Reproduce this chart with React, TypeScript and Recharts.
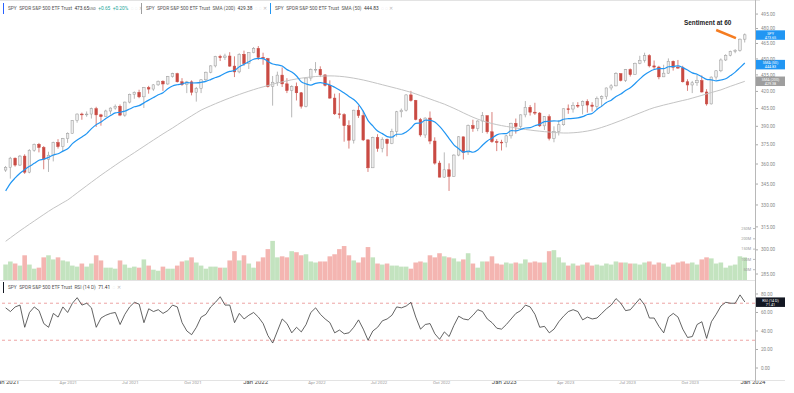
import React from "react";
import {
  ComposedChart,
  LineChart,
  Bar,
  Line,
  XAxis,
  YAxis,
  ReferenceLine,
  Cell,
} from "recharts";

// weekly SPY bars (dividend adjusted)
const FIRST_WEEK = "2020-12-28";
const FIRST_OPEN = 355.4;

const closes = [
  357.5, 364.5, 359.2, 366.1, 353.8, 370.7, 375.4, 372.9, 363.7, 366.8,
  376.8, 373.6, 379.9, 384.3, 394.7, 400.3, 399.8, 400.3, 404.9, 399.6,
  398.1, 402.9, 405.4, 407.0, 399.4, 410.6, 417.5, 419.2, 415.2, 423.4,
  422.1, 425.9, 429.2, 426.7, 433.4, 436.1, 428.7, 426.2, 428.6, 419.3,
  422.8, 430.5, 437.5, 443.4, 452.4, 451.2, 452.8, 443.2, 437.8, 454.5,
  445.6, 456.0, 460.2, 451.6, 450.3, 424.4, 428.3, 434.8, 426.8, 420.8,
  424.2, 418.8, 407.0, 432.1, 440.0, 440.2, 435.0, 425.5, 414.1, 400.5,
  399.8, 390.5, 378.7, 403.6, 399.0, 378.9, 357.1, 380.8, 372.2, 379.4,
  376.0, 385.7, 402.2, 403.6, 416.9, 412.1, 395.7, 382.9, 396.9, 378.0,
  360.7, 350.1, 355.6, 350.6, 366.9, 381.4, 368.9, 390.7, 388.2, 394.4,
  398.9, 385.5, 377.5, 377.1, 376.7, 382.2, 392.5, 389.9, 399.6, 406.1,
  401.9, 401.1, 390.4, 398.1, 380.1, 385.6, 391.3, 404.8, 404.6, 407.8,
  407.5, 411.2, 408.0, 406.9, 413.9, 415.3, 423.1, 425.0, 436.1, 429.9,
  439.9, 435.2, 445.9, 448.7, 453.2, 443.4, 442.3, 433.2, 436.6, 447.8,
  442.1, 441.6, 428.7, 425.8, 427.8, 429.8, 419.5, 409.0, 433.0, 438.8,
  449.0, 453.5, 457.3, 458.4, 469.3, 473.65,
];

const highs = [
  358.5, 365.5, 365.0, 367.0, 367.5, 371.5, 376.0, 376.5, 374.0, 369.5,
  377.5, 379.5, 380.5, 385.0, 395.0, 400.8, 401.5, 402.5, 405.8, 406.5,
  400.5, 404.0, 406.0, 408.5, 408.5, 411.0, 418.0, 420.0, 421.5, 424.0,
  425.0, 426.5, 429.8, 430.0, 434.0, 437.0, 437.0, 432.0, 429.5, 430.0,
  424.0, 431.0, 438.0, 444.0, 453.0, 454.0, 455.0, 456.5, 452.5, 455.5,
  458.0, 456.5, 461.5, 462.5, 456.0, 451.0, 434.0, 438.0, 442.0, 432.0,
  425.5, 428.0, 419.5, 432.5, 441.0, 447.0, 443.0, 435.5, 430.0, 418.0,
  418.5, 401.0, 395.0, 404.0, 407.5, 403.0, 379.5, 381.5, 383.5, 381.0,
  380.0, 388.0, 403.0, 405.0, 417.5, 420.5, 412.5, 397.0, 397.5, 402.5,
  381.0, 362.5, 369.0, 360.5, 367.5, 382.0, 381.5, 391.5, 395.5, 395.0,
  402.0, 399.0, 402.0, 379.5, 379.0, 383.0, 393.0, 396.5, 400.0, 411.5,
  408.0, 410.0, 402.0, 398.5, 400.0, 390.0, 395.0, 405.0, 408.5, 410.5,
  410.5, 412.0, 413.0, 410.5, 415.5, 416.5, 423.5, 426.5, 437.5, 436.5,
  440.5, 441.0, 446.5, 453.0, 456.0, 454.5, 448.5, 443.5, 444.5, 450.5,
  448.5, 449.0, 443.5, 431.0, 429.5, 435.0, 434.5, 422.0, 433.5, 439.5,
  450.5, 454.5, 458.0, 459.5, 470.0, 475.0,
];

const lows = [
  354.0, 349.0, 358.0, 358.5, 352.5, 353.0, 369.5, 369.0, 356.0, 354.0,
  362.0, 372.0, 369.5, 376.5, 384.0, 393.0, 395.5, 398.0, 396.5, 389.5,
  390.5, 398.0, 400.0, 404.0, 398.5, 398.0, 409.5, 413.5, 414.0, 405.5,
  418.0, 420.5, 425.0, 420.5, 426.0, 432.5, 428.0, 425.0, 418.5, 416.5,
  411.0, 418.5, 429.5, 436.5, 442.0, 448.0, 449.0, 442.5, 433.0, 436.5,
  443.5, 440.5, 455.5, 449.0, 444.5, 423.5, 407.5, 425.0, 424.0, 418.5,
  397.5, 412.0, 405.0, 406.0, 429.5, 437.0, 433.0, 424.5, 413.5, 399.5,
  396.5, 377.5, 372.0, 376.0, 397.0, 378.0, 354.0, 357.0, 369.5, 369.0,
  366.0, 375.5, 381.5, 397.5, 402.5, 411.0, 395.0, 381.5, 380.5, 375.5,
  359.5, 350.0, 349.5, 340.0, 350.5, 366.0, 363.5, 367.0, 385.5, 386.0,
  384.5, 384.0, 376.5, 370.0, 370.5, 373.0, 380.0, 384.0, 388.0, 397.5,
  399.0, 399.5, 389.5, 387.0, 378.5, 377.0, 382.5, 390.5, 400.5, 401.5,
  405.5, 400.0, 401.5, 402.5, 404.5, 406.5, 413.0, 421.0, 424.5, 429.0,
  428.5, 433.5, 435.0, 445.0, 446.5, 442.0, 440.0, 431.0, 433.0, 436.0,
  439.0, 440.5, 428.0, 420.5, 418.5, 425.0, 419.0, 407.5, 408.5, 430.5,
  437.5, 448.0, 452.5, 455.5, 457.0, 466.0,
];

const sma50 = [
  340.0, 345.5, 349.5, 353.0, 355.7, 358.2, 360.5, 362.9, 363.7, 365.1,
  367.0, 367.9, 370.0, 371.8, 375.9, 378.8, 381.3, 384.0, 388.1, 391.4,
  393.6, 396.5, 399.0, 401.3, 401.8, 402.8, 404.6, 406.5, 407.5, 409.9,
  412.3, 414.6, 417.0, 418.9, 422.3, 424.9, 426.0, 426.7, 428.0, 427.6,
  427.7, 428.2, 429.0, 430.7, 432.6, 434.1, 436.5, 438.2, 439.1, 442.6,
  444.9, 447.4, 449.7, 450.5, 450.3, 447.6, 445.2, 444.4, 443.3, 439.9,
  437.7, 434.0, 428.7, 426.8, 425.7, 427.3, 428.0, 427.0, 425.8, 423.7,
  421.3, 418.5, 415.6, 412.8, 408.7, 402.6, 394.8, 390.3, 386.1, 384.0,
  381.6, 381.1, 383.5, 383.5, 385.3, 388.6, 392.5, 392.7, 395.1, 395.0,
  393.5, 389.9, 385.3, 380.0, 375.0, 371.9, 369.2, 370.0, 369.1, 370.8,
  374.6, 378.1, 380.3, 383.0, 383.9, 384.0, 386.4, 386.3, 387.4, 388.6,
  388.9, 390.5, 391.8, 393.9, 394.2, 394.5, 394.4, 395.9, 396.4, 396.6,
  397.1, 398.1, 399.9, 400.8, 404.2, 407.1, 410.3, 412.3, 415.5, 417.7,
  420.9, 423.3, 427.1, 431.3, 435.2, 438.0, 440.0, 440.8, 440.8, 442.6,
  442.8, 443.5, 441.8, 439.5, 436.9, 435.6, 433.3, 430.9, 430.5, 429.6,
  430.3, 431.5, 434.4, 437.6, 441.8, 446.1,
];

const sma200 = [
  305.5, 307.8, 310.1, 312.4, 314.6, 316.8, 319.0, 321.2, 323.4, 325.6,
  327.7, 329.6, 331.6, 333.5, 336.0, 338.6, 341.2, 343.8, 346.4, 349.0,
  351.6, 354.1, 356.6, 359.1, 361.6, 364.0, 366.4, 368.8, 371.3, 373.8,
  376.3, 378.8, 381.3, 383.8, 386.2, 388.6, 391.2, 393.8, 396.3, 398.8,
  401.3, 403.7, 405.6, 407.4, 409.2, 410.9, 412.6, 414.2, 415.8, 417.3,
  418.8, 420.2, 421.6, 422.9, 424.1, 425.3, 426.5, 427.6, 428.6, 429.6,
  430.5, 431.3, 432.0, 432.6, 433.1, 433.5, 433.8, 434.0, 434.1, 434.0,
  433.7, 433.3, 432.7, 432.0, 431.2, 430.3, 429.3, 428.2, 427.1, 426.0,
  424.9, 423.8, 422.7, 421.6, 420.4, 419.2, 417.8, 416.3, 414.8, 413.3,
  411.8, 410.3, 408.8, 407.0, 405.2, 403.3, 401.3, 399.4, 397.6, 396.0,
  394.6, 393.4, 392.3, 391.4, 390.6, 389.9, 389.3, 388.6, 388.0, 387.4,
  386.9, 386.4, 386.0, 385.6, 385.3, 385.0, 384.7, 384.5, 384.5, 384.7,
  385.0, 385.5, 386.1, 386.9, 387.9, 389.1, 390.4, 391.8, 393.3, 394.8,
  396.4, 398.0, 399.6, 401.2, 402.8, 404.4, 405.8, 406.9, 408.0, 409.0,
  410.0, 411.0, 412.0, 412.9, 414.1, 415.3, 416.5, 417.8, 419.0, 420.2,
  421.4, 423.0, 424.6, 426.1, 427.6, 429.1,
];

// average daily volume per week, millions
const volumes = [
  75, 90, 80, 70, 120, 75, 55, 60, 110, 120,
  100, 110, 95, 90, 70, 65, 80, 65, 80, 120,
  95, 60, 60, 55, 95, 75, 60, 65, 60, 100,
  70, 50, 45, 65, 55, 55, 70, 90, 95, 110,
  85, 70, 55, 65, 65, 60, 60, 95, 140, 95,
  120, 80, 60, 90, 110, 150, 190, 110, 115, 110,
  140, 135, 120, 125, 90, 85, 90, 90, 115, 125,
  150, 165, 120, 95, 85, 110, 160, 110, 80, 75,
  80, 70, 70, 65, 65, 55, 85, 90, 85, 120,
  110, 130, 115, 110, 105, 90, 100, 130, 80, 60,
  90, 90, 115, 80, 75, 85, 80, 85, 80, 100,
  85, 90, 85, 85, 140, 145, 110, 85, 70, 80,
  70, 75, 85, 70, 75, 70, 80, 75, 90, 85,
  85, 80, 80, 75, 85, 90, 75, 85, 80, 65,
  75, 85, 90, 80, 85, 75, 100, 110, 105, 80,
  85, 60, 70, 75, 115, 110,
];

const rsi = [
  65, 61, 66, 68, 44, 60, 66, 62, 48, 44,
  59, 55, 66, 60, 70, 76, 68, 70, 65, 44,
  54, 57, 59, 60, 47, 58, 66, 71, 69, 49,
  64, 61, 63, 59, 62, 68, 66, 49, 40, 36,
  44, 55, 58, 66, 71, 77, 68, 68, 49, 59,
  53, 57, 60, 55, 48, 35, 27, 40, 53, 48,
  38, 44, 39, 47, 60, 65, 58, 53, 49, 38,
  41, 37, 38, 44, 52, 42, 30, 40, 44, 51,
  53, 57, 66, 65, 67, 71, 55, 42, 47, 48,
  37, 31, 39, 34, 46, 56, 53, 52, 57, 63,
  61, 53, 49, 43, 42, 47, 53, 59, 62, 68,
  66, 58, 44, 45, 38, 42, 50, 56, 61, 63,
  61, 52, 55, 53, 54, 59, 64, 68, 75, 70,
  62, 63, 69, 75, 68, 54, 54, 45, 38, 55,
  59, 55, 42, 33, 34, 47, 50, 32, 50, 58,
  67, 71, 70, 70, 79, 71.41,
];

const LAST_PRICE = 473.65;
const LAST_SMA50 = 444.83;
const LAST_SMA200 = 429.38;
const LAST_RSI = 71.41;

const priceTicks = [285, 300, 315, 330, 345, 360, 375, 390, 405, 420, 435, 450, 465, 480, 495];
const volumeTicks = [50, 100, 150, 200, 250];
const rsiTicks = [0, 20, 40, 60, 80];
const quarterDates = [
  "2021-01-01", "2021-04-01", "2021-07-01", "2021-10-01",
  "2022-01-01", "2022-04-01", "2022-07-01", "2022-10-01",
  "2023-01-01", "2023-04-01", "2023-07-01", "2023-10-01", "2024-01-01",
];
const quarterLabels = [
  "Jan 2021", "Apr 2021", "Jul 2021", "Oct 2021",
  "Jan 2022", "Apr 2022", "Jul 2022", "Oct 2022",
  "Jan 2023", "Apr 2023", "Jul 2023", "Oct 2023", "Jan 2024",
];

const ORIGIN = Date.parse("2021-01-01");
const dayOf = (s: string) => (Date.parse(s) - ORIGIN) / 864e5;
const firstDay = dayOf(FIRST_WEEK) + 2;
const quarterDays = quarterDates.map(dayOf);
const X_DOMAIN = [-10.3, 1098];

const rows = closes.map((close, i) => {
  const open = i === 0 ? FIRST_OPEN : closes[i - 1];
  return {
    day: firstDay + 7 * i,
    open,
    close,
    high: highs[i],
    low: lows[i],
    range: [lows[i], highs[i]],
    vol: volumes[i],
    sma50: sma50[i],
    sma200: sma200[i],
    rsi: rsi[i],
    up: close >= open,
  };
});

const FONT = "Roboto, 'Liberation Sans', Arial, sans-serif";
const UP = "#9a9a9a";
const DOWN = "#c94a43";

const Candle = (props: any) => {
  const { x, y, width, height, payload } = props;
  if (!payload || height == null) return null;
  const top = Math.min(y, y + height);
  const h = Math.abs(height);
  const lh = Math.log(payload.high);
  const ll = Math.log(payload.low);
  const yOf = (v: number) => top + (h * (lh - Math.log(v))) / (lh - ll);
  const up = payload.close >= payload.open;
  const b1 = yOf(Math.max(payload.open, payload.close));
  const b2 = yOf(Math.min(payload.open, payload.close));
  const cx = x + width / 2;
  const c = up ? UP : DOWN;
  return (
    <g>
      <line x1={cx} x2={cx} y1={top} y2={top + h} stroke={c} strokeWidth={0.7} />
      <rect
        x={x}
        y={b1}
        width={width}
        height={Math.max(b2 - b1, 0.8)}
        fill={up ? "#ececec" : DOWN}
        stroke={c}
        strokeWidth={0.5}
      />
    </g>
  );
};

const Tag = (props: any) => {
  const { viewBox, bg, lines } = props;
  if (!viewBox) return null;
  const x = viewBox.x + viewBox.width + 1;
  const y = viewBox.y;
  return (
    <g>
      <rect x={x} y={y - 4.5} width={29} height={9.5} fill={bg} />
      <text x={x + 14.5} y={y - 0.2} textAnchor="middle" fontSize={3.7} fill="#fff" fontFamily={FONT}>
        {lines[0]}
      </text>
      <text x={x + 14.5} y={y + 3.9} textAnchor="middle" fontSize={3.7} fill="#fff" fontFamily={FONT}>
        {lines[1]}
      </text>
    </g>
  );
};

const QuarterTick = (props: any) => {
  const { x, y, payload } = props;
  const idx = quarterDays.indexOf(payload.value);
  const label = quarterLabels[idx] ?? "";
  const jan = label.startsWith("Jan");
  return (
    <text
      x={x}
      y={y + 8}
      textAnchor="middle"
      fontSize={jan ? 6 : 4.3}
      fill={jan ? "#444" : "#999"}
      fontFamily={FONT}
    >
      {label}
    </text>
  );
};

const legendBox = (left: number, width: number, bar: string): React.CSSProperties => ({
  position: "absolute",
  left,
  top: 3,
  width,
  height: 11,
  borderLeft: `1.5px solid ${bar}`,
  background: "rgba(255,255,255,0.9)",
  fontFamily: FONT,
  fontSize: 4.8,
  color: "#555",
  lineHeight: "11px",
  paddingLeft: 4,
  whiteSpace: "nowrap",
  boxSizing: "border-box",
});

export default function App() {
  return (
    <div
      style={{
        position: "absolute",
        left: 0,
        top: 0,
        width: 794,
        height: 393,
        background: "#fff",
        overflow: "hidden",
        fontFamily: FONT,
      }}
    >
      <div style={{ position: "absolute", left: 0, top: 0 }}>
        <ComposedChart width={794} height={280} data={rows} margin={{ top: 0, right: 0, bottom: 0, left: 0 }}>
          <XAxis xAxisId="c" dataKey="day" type="number" domain={X_DOMAIN} allowDataOverflow hide />
          <XAxis xAxisId="v" dataKey="day" type="number" domain={X_DOMAIN} allowDataOverflow hide />
          <YAxis
            yAxisId="p"
            orientation="right"
            width={39}
            scale="log"
            type="number"
            domain={[281.4, 510]}
            allowDataOverflow
            ticks={priceTicks}
            interval={0}
            tickFormatter={(v: number) => v.toFixed(2)}
            tick={{ fill: "#888", fontSize: 4.6, fontFamily: FONT }}
            tickSize={3}
            tickMargin={3}
            tickLine={{ stroke: "#aaa" }}
            axisLine={false}
          />
          <YAxis
            yAxisId="v"
            orientation="right"
            mirror
            type="number"
            domain={[0, 1360]}
            allowDataOverflow
            ticks={volumeTicks}
            interval={0}
            tickFormatter={(v: number) => `${v}M`}
            tick={{ fill: "#999", fontSize: 3.8, fontFamily: FONT }}
            tickSize={2}
            tickLine={{ stroke: "#bbb" }}
            axisLine={false}
          />
          <Bar xAxisId="v" yAxisId="v" dataKey="vol" barSize={4.6} isAnimationActive={false}>
            {rows.map((r, i) => (
              <Cell key={i} fill={r.up ? "#c3e3bf" : "#f4b5b1"} />
            ))}
          </Bar>
          <Line
            xAxisId="c"
            yAxisId="p"
            type="monotone"
            dataKey="sma200"
            stroke="#c4c4c4"
            strokeWidth={1}
            dot={false}
            isAnimationActive={false}
          />
          <Line
            xAxisId="c"
            yAxisId="p"
            type="monotone"
            dataKey="sma50"
            stroke="#2196f3"
            strokeWidth={1.2}
            dot={false}
            isAnimationActive={false}
          />
          <Bar
            xAxisId="c"
            yAxisId="p"
            dataKey="range"
            barSize={2.6}
            shape={(p: any) => <Candle {...p} />}
            isAnimationActive={false}
          />
          <ReferenceLine
            xAxisId="c"
            yAxisId="p"
            segment={[
              { x: dayOf("2023-11-08"), y: 478.5 },
              { x: dayOf("2023-12-07"), y: 470.4 },
            ]}
            stroke="#f57c20"
            strokeWidth={2.5}
            ifOverflow="visible"
          />
          <ReferenceLine
            xAxisId="c"
            yAxisId="p"
            y={LAST_PRICE}
            strokeOpacity={0}
            label={<Tag bg="#2196f3" lines={["SPY", LAST_PRICE.toFixed(2)]} />}
          />
          <ReferenceLine
            xAxisId="c"
            yAxisId="p"
            y={LAST_SMA50}
            strokeOpacity={0}
            label={<Tag bg="#2196f3" lines={["SMA (50)", LAST_SMA50.toFixed(2)]} />}
          />
          <ReferenceLine
            xAxisId="c"
            yAxisId="p"
            y={LAST_SMA200}
            strokeOpacity={0}
            label={<Tag bg="#9e9e9e" lines={["SMA (200)", LAST_SMA200.toFixed(2)]} />}
          />
        </ComposedChart>
      </div>

      <div style={{ position: "absolute", left: 0, top: 281 }}>
        <LineChart width={794} height={112} data={rows} margin={{ top: 4, right: 0, bottom: 11, left: 0 }}>
          <XAxis
            dataKey="day"
            type="number"
            domain={X_DOMAIN}
            allowDataOverflow
            ticks={quarterDays}
            interval={0}
            height={14}
            tick={<QuarterTick />}
            tickLine={false}
            axisLine={false}
          />
          <YAxis
            orientation="right"
            width={39}
            type="number"
            domain={[0, 89.7]}
            allowDataOverflow
            ticks={rsiTicks}
            interval={0}
            tickFormatter={(v: number) => v.toFixed(2)}
            tick={{ fill: "#888", fontSize: 4.6, fontFamily: FONT }}
            tickSize={3}
            tickMargin={3}
            tickLine={{ stroke: "#aaa" }}
            axisLine={false}
          />
          <ReferenceLine y={70} stroke="#e88d8d" strokeDasharray="3 3" strokeWidth={0.8} />
          <ReferenceLine y={30} stroke="#e88d8d" strokeDasharray="3 3" strokeWidth={0.8} />
          <Line
            type="linear"
            dataKey="rsi"
            stroke="#3c3c3c"
            strokeWidth={0.8}
            dot={false}
            isAnimationActive={false}
          />
          <ReferenceLine
            y={LAST_RSI}
            strokeOpacity={0}
            label={<Tag bg="#131722" lines={["RSI (14 D)", LAST_RSI.toFixed(2)]} />}
          />
        </LineChart>
      </div>

      {/* frame lines */}
      <div style={{ position: "absolute", left: 0, top: 0, width: 760, height: 1, background: "#e3e3e3" }} />
      <div style={{ position: "absolute", left: 0, top: 280, width: 755, height: 1, background: "#e3e3e3" }} />
      <div style={{ position: "absolute", left: 0, top: 380, width: 785, height: 1, background: "#e3e3e3" }} />
      <div style={{ position: "absolute", left: 755, top: 0, width: 1, height: 381, background: "#b8b8b8" }} />

      {/* legends */}
      <div style={legendBox(3, 137, "#2962ff")}>
        SPY&nbsp;&nbsp;SPDR S&amp;P 500 ETF Trust&nbsp;&nbsp;
        <span style={{ color: "#333" }}>473.65</span>
        <span style={{ fontSize: 3.5 }}>USD</span>&nbsp;&nbsp;
        <span style={{ color: "#26a69a" }}>+0.65&nbsp;&nbsp;+0.20%</span>
        <span style={{ color: "#bbb" }}>&nbsp;&nbsp;◌ ◌ ✕</span>
      </div>
      <div style={legendBox(141, 129, "#9e9e9e")}>
        SPY&nbsp;&nbsp;SPDR S&amp;P 500 ETF Trust&nbsp;&nbsp;SMA (200)&nbsp;&nbsp;
        <span style={{ color: "#333" }}>429.38</span>
        <span style={{ color: "#bbb" }}>&nbsp;&nbsp;◌ ◌ ✕</span>
      </div>
      <div style={legendBox(270, 134, "#2196f3")}>
        SPY&nbsp;&nbsp;SPDR S&amp;P 500 ETF Trust&nbsp;&nbsp;SMA (50)&nbsp;&nbsp;
        <span style={{ color: "#333" }}>444.83</span>
        <span style={{ color: "#bbb" }}>&nbsp;&nbsp;◌ ◌ ✕</span>
      </div>
      <div style={{ ...legendBox(3, 113, "#131722"), top: 282 }}>
        SPY&nbsp;&nbsp;SPDR S&amp;P 500 ETF Trust&nbsp;&nbsp;RSI (14 D)&nbsp;&nbsp;
        <span style={{ color: "#333" }}>71.41</span>
        <span style={{ color: "#bbb" }}>&nbsp;&nbsp;◌ ✕</span>
      </div>

      <div
        style={{
          position: "absolute",
          left: 684,
          top: 19,
          fontSize: 6.4,
          fontWeight: 700,
          color: "#222",
          fontFamily: "'Liberation Sans', Arial, sans-serif",
          whiteSpace: "nowrap",
        }}
      >
        Sentiment at 60
      </div>
    </div>
  );
}
